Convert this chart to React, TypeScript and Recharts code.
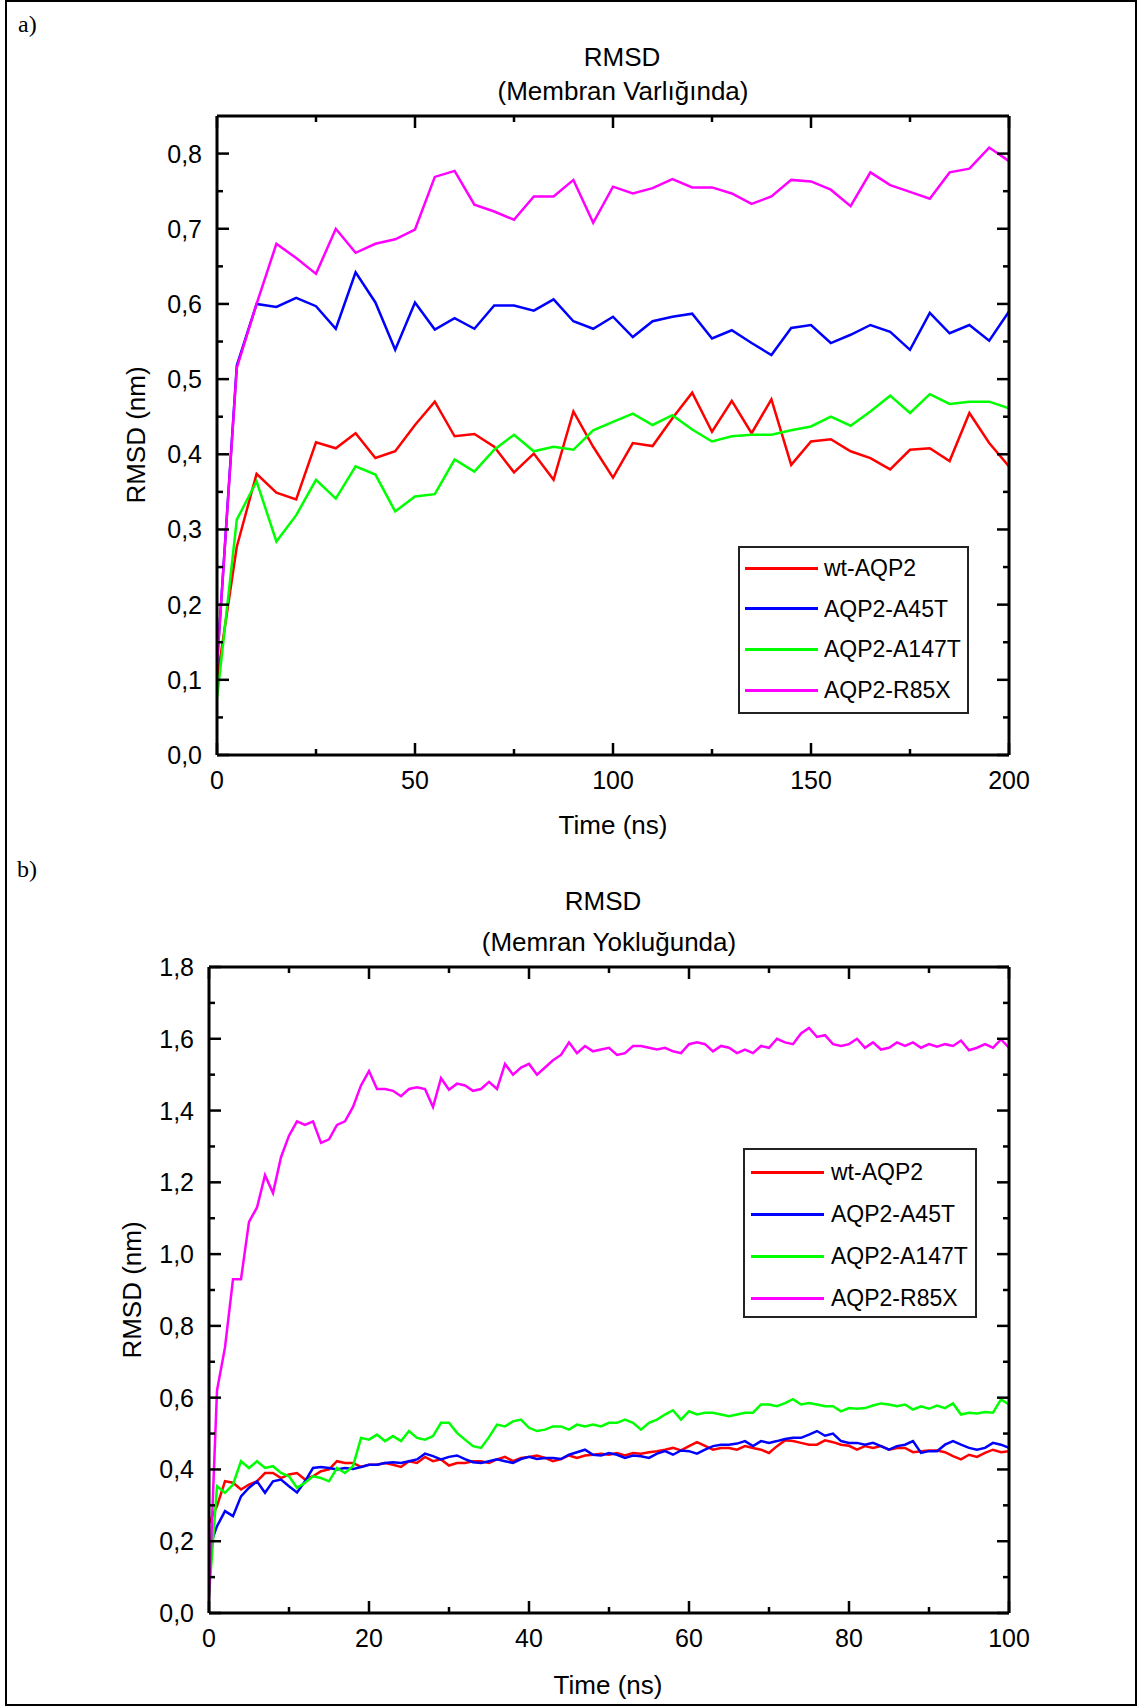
import { LineChart, Line, XAxis, YAxis, Legend } from 'recharts'

const FONT = '"Liberation Sans", Arial, sans-serif'
const SERIF = '"Liberation Serif", "Times New Roman", serif'

const NAMES = ['wt-AQP2', 'AQP2-A45T', 'AQP2-A147T', 'AQP2-R85X']
const KEYS = ['wt', 'a45t', 'a147t', 'r85x']
const COLORS = ['#FF0000', '#0000FF', '#00FF00', '#FF00FF']

// a) Membran Varlığında, every 5 ns
const TIME_A = [0, 5, 10, 15, 20, 25, 30, 35, 40, 45, 50, 55, 60, 65, 70, 75, 80, 85, 90, 95, 100,
  105, 110, 115, 120, 125, 130, 135, 140, 145, 150, 155, 160, 165, 170, 175, 180, 185, 190, 195, 200]
const WT_A = [0.10, 0.277, 0.374, 0.349, 0.340, 0.416, 0.408, 0.428, 0.395, 0.404, 0.439, 0.470, 0.424, 0.427,
  0.410, 0.376, 0.401, 0.366, 0.457, 0.410, 0.369, 0.415, 0.411, 0.448, 0.482, 0.430, 0.471, 0.428, 0.473,
  0.386, 0.417, 0.420, 0.404, 0.395, 0.380, 0.406, 0.408, 0.391, 0.455, 0.415, 0.384]
const A45T_A = [0.12, 0.518, 0.600, 0.596, 0.608, 0.597, 0.567, 0.642, 0.602, 0.539, 0.602, 0.566, 0.581, 0.567,
  0.598, 0.598, 0.591, 0.606, 0.577, 0.567, 0.583, 0.556, 0.577, 0.583, 0.587, 0.554, 0.565, 0.548, 0.532,
  0.568, 0.572, 0.548, 0.559, 0.572, 0.563, 0.539, 0.588, 0.561, 0.572, 0.551, 0.590]
const A147T_A = [0.075, 0.313, 0.364, 0.284, 0.319, 0.366, 0.341, 0.384, 0.373, 0.324, 0.344, 0.347, 0.393, 0.377,
  0.406, 0.426, 0.404, 0.410, 0.406, 0.432, 0.443, 0.454, 0.439, 0.452, 0.433, 0.417, 0.424, 0.426, 0.426,
  0.432, 0.437, 0.450, 0.438, 0.457, 0.478, 0.455, 0.480, 0.467, 0.470, 0.470, 0.461]
const R85X_A = [0.12, 0.515, 0.600, 0.680, 0.661, 0.640, 0.700, 0.668, 0.680, 0.686, 0.699, 0.769, 0.777, 0.732,
  0.723, 0.712, 0.743, 0.743, 0.765, 0.708, 0.756, 0.747, 0.754, 0.766, 0.755, 0.755, 0.747, 0.733, 0.743,
  0.765, 0.763, 0.752, 0.730, 0.775, 0.758, 0.749, 0.740, 0.775, 0.780, 0.808, 0.790]

// b) Memran Yokluğunda, every 1 ns
const TIME_B = [0, 1, 2, 3, 4, 5, 6, 7, 8, 9, 10, 11, 12, 13, 14, 15, 16, 17, 18, 19, 20, 21, 22, 23, 24, 25,
  26, 27, 28, 29, 30, 31, 32, 33, 34, 35, 36, 37, 38, 39, 40, 41, 42, 43, 44, 45, 46, 47, 48, 49, 50, 51, 52,
  53, 54, 55, 56, 57, 58, 59, 60, 61, 62, 63, 64, 65, 66, 67, 68, 69, 70, 71, 72, 73, 74, 75, 76, 77, 78, 79,
  80, 81, 82, 83, 84, 85, 86, 87, 88, 89, 90, 91, 92, 93, 94, 95, 96, 97, 98, 99, 100]
const WT_B = [
  0.25, 0.298, 0.367, 0.363, 0.344, 0.358, 0.367, 0.390, 0.390, 0.376,
  0.386, 0.390, 0.372, 0.381, 0.395, 0.400, 0.423, 0.418, 0.418, 0.407,
  0.413, 0.413, 0.418, 0.413, 0.407, 0.423, 0.418, 0.435, 0.423, 0.428,
  0.411, 0.418, 0.418, 0.423, 0.423, 0.418, 0.428, 0.435, 0.423, 0.432,
  0.435, 0.439, 0.432, 0.423, 0.429, 0.439, 0.432, 0.439, 0.441, 0.444,
  0.441, 0.446, 0.439, 0.446, 0.444, 0.448, 0.451, 0.455, 0.460, 0.453,
  0.465, 0.476, 0.466, 0.455, 0.460, 0.460, 0.455, 0.465, 0.460, 0.455,
  0.446, 0.465, 0.481, 0.479, 0.474, 0.469, 0.469, 0.481, 0.476, 0.469,
  0.466, 0.455, 0.465, 0.460, 0.465, 0.455, 0.460, 0.460, 0.448, 0.451,
  0.453, 0.453, 0.448, 0.437, 0.428, 0.441, 0.435, 0.446, 0.455, 0.448,
  0.451]
const A45T_B = [
  0.18, 0.242, 0.284, 0.270, 0.325, 0.349, 0.367, 0.335, 0.367, 0.372,
  0.353, 0.336, 0.367, 0.404, 0.407, 0.404, 0.400, 0.404, 0.401, 0.407,
  0.413, 0.413, 0.418, 0.420, 0.418, 0.423, 0.428, 0.444, 0.437, 0.428,
  0.435, 0.439, 0.429, 0.420, 0.418, 0.423, 0.428, 0.423, 0.418, 0.429,
  0.435, 0.429, 0.432, 0.432, 0.429, 0.441, 0.448, 0.455, 0.441, 0.439,
  0.446, 0.441, 0.432, 0.439, 0.437, 0.432, 0.444, 0.451, 0.441, 0.453,
  0.451, 0.444, 0.455, 0.465, 0.469, 0.469, 0.472, 0.479, 0.465, 0.479,
  0.474, 0.479, 0.485, 0.488, 0.488, 0.497, 0.507, 0.494, 0.500, 0.479,
  0.474, 0.474, 0.469, 0.474, 0.465, 0.455, 0.465, 0.469, 0.479, 0.446,
  0.451, 0.451, 0.469, 0.479, 0.469, 0.460, 0.455, 0.460, 0.474, 0.469,
  0.460]
const A147T_B = [
  0.05, 0.353, 0.335, 0.358, 0.423, 0.404, 0.423, 0.404, 0.409, 0.390,
  0.381, 0.349, 0.363, 0.381, 0.376, 0.367, 0.404, 0.390, 0.409, 0.488,
  0.483, 0.497, 0.479, 0.493, 0.479, 0.507, 0.488, 0.483, 0.493, 0.530,
  0.530, 0.502, 0.483, 0.465, 0.460, 0.490, 0.525, 0.520, 0.534, 0.539,
  0.516, 0.507, 0.511, 0.520, 0.520, 0.511, 0.525, 0.520, 0.525, 0.520,
  0.530, 0.530, 0.539, 0.530, 0.511, 0.530, 0.539, 0.553, 0.565, 0.539,
  0.562, 0.553, 0.558, 0.558, 0.553, 0.548, 0.553, 0.558, 0.558, 0.581,
  0.581, 0.576, 0.585, 0.596, 0.581, 0.585, 0.581, 0.576, 0.576, 0.562,
  0.571, 0.569, 0.571, 0.578, 0.584, 0.581, 0.576, 0.581, 0.567, 0.576,
  0.569, 0.578, 0.571, 0.584, 0.553, 0.558, 0.556, 0.560, 0.558, 0.595,
  0.581]
const R85X_B = [
  0.04, 0.62, 0.74, 0.93, 0.93, 1.09, 1.13, 1.22, 1.17, 1.27,
  1.33, 1.37, 1.36, 1.37, 1.31, 1.32, 1.36, 1.37, 1.41, 1.47,
  1.51, 1.46, 1.46, 1.455, 1.44, 1.46, 1.465, 1.46, 1.41, 1.49,
  1.458, 1.475, 1.47, 1.455, 1.46, 1.48, 1.46, 1.53, 1.50, 1.52,
  1.53, 1.50, 1.52, 1.54, 1.555, 1.59, 1.56, 1.58, 1.565, 1.57,
  1.575, 1.555, 1.56, 1.58, 1.58, 1.575, 1.57, 1.575, 1.565, 1.56,
  1.585, 1.59, 1.585, 1.565, 1.58, 1.575, 1.56, 1.57, 1.56, 1.58,
  1.575, 1.60, 1.59, 1.585, 1.615, 1.63, 1.605, 1.61, 1.585, 1.58,
  1.585, 1.60, 1.575, 1.59, 1.57, 1.575, 1.59, 1.58, 1.59, 1.575,
  1.585, 1.578, 1.585, 1.58, 1.595, 1.568, 1.575, 1.585, 1.575, 1.598,
  1.575]

const X_TICKS_A = [0, 25, 50, 75, 100, 125, 150, 175, 200]
const X_LABELS_A = [0, 50, 100, 150, 200]
const Y_TICKS_A = [0, 0.05, 0.1, 0.15, 0.2, 0.25, 0.3, 0.35, 0.4, 0.45, 0.5, 0.55, 0.6, 0.65, 0.7, 0.75, 0.8]
const Y_LABELS_A = [0, 0.1, 0.2, 0.3, 0.4, 0.5, 0.6, 0.7, 0.8]

const X_TICKS_B = [0, 10, 20, 30, 40, 50, 60, 70, 80, 90, 100]
const X_LABELS_B = [0, 20, 40, 60, 80, 100]
const Y_TICKS_B = [0, 0.1, 0.2, 0.3, 0.4, 0.5, 0.6, 0.7, 0.8, 0.9, 1.0, 1.1, 1.2, 1.3, 1.4, 1.5, 1.6, 1.7, 1.8]
const Y_LABELS_B = [0, 0.2, 0.4, 0.6, 0.8, 1.0, 1.2, 1.4, 1.6, 1.8]

const dataA = TIME_A.map((t, i) => ({ t, wt: WT_A[i], a45t: A45T_A[i], a147t: A147T_A[i], r85x: R85X_A[i] }))
const dataB = TIME_B.map((t, i) => ({ t, wt: WT_B[i], a45t: A45T_B[i], a147t: A147T_B[i], r85x: R85X_B[i] }))

const fmtX = (v: number) => String(v)
const fmtY = (v: number) => v.toFixed(1).replace('.', ',')

const AXIS = { stroke: '#000', strokeWidth: 3 }

// ticks point into the plot (Origin style), labels only on bottom/left
function axisTick(side: 'left' | 'right' | 'top' | 'bottom', majors: number[], labelled: boolean, fmt: (v: number) => string) {
  return (props: any) => {
    const { x, y, payload } = props
    const v = payload.value
    const major = majors.includes(v)
    const len = major ? 12 : 6
    let x2 = x
    let y2 = y
    if (side === 'left') x2 = x + len
    if (side === 'right') x2 = x - len
    if (side === 'top') y2 = y + len
    if (side === 'bottom') y2 = y - len
    return (
      <g>
        <line x1={x} y1={y} x2={x2} y2={y2} stroke="#000" strokeWidth={2.5} />
        {labelled && major && side === 'left' && (
          <text x={x - 15} y={y + 9} textAnchor="end" fontSize={25} fontFamily={FONT} fill="#000">{fmt(v)}</text>
        )}
        {labelled && major && side === 'bottom' && (
          <text x={x} y={y + 34} textAnchor="middle" fontSize={25} fontFamily={FONT} fill="#000">{fmt(v)}</text>
        )}
      </g>
    )
  }
}

type LegendPos = { left: number; top: number; width: number; height: number; first: number; step: number; sampleLeft: number; textLeft: number }

function LegendBox({ payload, pos }: { payload: any[]; pos: LegendPos }) {
  const items = [...(payload || [])].sort((a, b) => NAMES.indexOf(a.value) - NAMES.indexOf(b.value))
  return (
    <div style={{ position: 'relative', width: pos.width, height: pos.height, border: '2px solid #222', boxSizing: 'border-box', background: '#fff', fontFamily: FONT }}>
      {items.map((it, i) => {
        const c = pos.first + i * pos.step - 2
        return (
          <div key={it.value}>
            <div style={{ position: 'absolute', left: pos.sampleLeft, top: c - 1.5, width: 73, height: 3, background: it.color }} />
            <div style={{ position: 'absolute', left: pos.textLeft, top: c - 14, lineHeight: '28px', fontSize: 23, color: '#000', whiteSpace: 'nowrap' }}>{it.value}</div>
          </div>
        )
      })}
    </div>
  )
}

function Panel(p: {
  data: any[]; height: number; margin: { top: number; right: number; bottom: number; left: number }
  xDomain: [number, number]; xTicks: number[]; xLabels: number[]
  yDomain: [number, number]; yTicks: number[]; yLabels: number[]
  legend: LegendPos
}) {
  return (
    <LineChart width={1140} height={p.height} data={p.data} margin={p.margin}>
      <XAxis xAxisId="b" dataKey="t" type="number" domain={p.xDomain} ticks={p.xTicks} interval={0} height={60}
        tickSize={0} tickMargin={0} tickLine={false} axisLine={AXIS} tick={axisTick('bottom', p.xLabels, true, fmtX)} allowDataOverflow />
      <XAxis xAxisId="top" orientation="top" dataKey="t" type="number" domain={p.xDomain} ticks={p.xTicks} interval={0} height={1}
        tickSize={0} tickMargin={0} tickLine={false} axisLine={AXIS} tick={axisTick('top', p.xLabels, false, fmtX)} allowDataOverflow />
      <YAxis yAxisId="l" type="number" domain={p.yDomain} ticks={p.yTicks} interval={0} width={80}
        tickSize={0} tickMargin={0} tickLine={false} axisLine={AXIS} tick={axisTick('left', p.yLabels, true, fmtY)} allowDataOverflow />
      <YAxis yAxisId="r" orientation="right" type="number" domain={p.yDomain} ticks={p.yTicks} interval={0} width={1}
        tickSize={0} tickMargin={0} tickLine={false} axisLine={AXIS} tick={axisTick('right', p.yLabels, false, fmtY)} allowDataOverflow />
      {KEYS.map((k, i) => (
        <Line key={k} xAxisId="b" yAxisId="l" type="linear" dataKey={k} name={NAMES[i]} stroke={COLORS[i]}
          strokeWidth={2.5} dot={false} activeDot={false} isAnimationActive={false} />
      ))}
      <Legend layout="vertical" align="center" verticalAlign="middle"
        wrapperStyle={{ left: p.legend.left, top: p.legend.top, width: p.legend.width, height: p.legend.height }}
        content={(lp: any) => <LegendBox payload={lp.payload} pos={p.legend} />} />
    </LineChart>
  )
}

const txt = { fontFamily: FONT, fill: '#000', textAnchor: 'middle' as const }

export default function App() {
  return (
    <div style={{ position: 'absolute', left: 0, top: 0, width: 1140, height: 1706, background: '#fff', overflow: 'hidden' }}>
      <div style={{ position: 'absolute', left: 5, top: 0, width: 1132, height: 1706, border: '2px solid #000', boxSizing: 'border-box' }} />
      <div style={{ position: 'absolute', left: 0, top: 0 }}>
        <Panel data={dataA} height={860} margin={{ top: 115, right: 130, bottom: 45, left: 137 }}
          xDomain={[0, 200]} xTicks={X_TICKS_A} xLabels={X_LABELS_A}
          yDomain={[0, 0.85]} yTicks={Y_TICKS_A} yLabels={Y_LABELS_A}
          legend={{ left: 738, top: 546, width: 231, height: 168, first: 22, step: 40.7, sampleLeft: 5, textLeft: 84 }} />
      </div>
      <div style={{ position: 'absolute', left: 0, top: 860 }}>
        <Panel data={dataB} height={846} margin={{ top: 106, right: 130, bottom: 33, left: 129 }}
          xDomain={[0, 100]} xTicks={X_TICKS_B} xLabels={X_LABELS_B}
          yDomain={[0, 1.8]} yTicks={Y_TICKS_B} yLabels={Y_LABELS_B}
          legend={{ left: 743, top: 288, width: 234, height: 170, first: 24, step: 42, sampleLeft: 6, textLeft: 86 }} />
      </div>
      <svg width={1140} height={1706} style={{ position: 'absolute', left: 0, top: 0, pointerEvents: 'none' }}>
        <text x={18} y={32} fontSize={24} fontFamily={SERIF} fill="#000">a)</text>
        <text x={17} y={877} fontSize={24} fontFamily={SERIF} fill="#000">b)</text>

        <text x={622} y={66} fontSize={26} {...txt}>RMSD</text>
        <text x={623} y={100} fontSize={26} {...txt}>(Membran Varlığında)</text>
        <text x={613} y={834} fontSize={26} {...txt}>Time (ns)</text>
        <text x={145} y={435} fontSize={26} {...txt} transform="rotate(-90 145 435)">RMSD (nm)</text>

        <text x={603} y={910} fontSize={26} {...txt}>RMSD</text>
        <text x={609} y={951} fontSize={26} {...txt}>(Memran Yokluğunda)</text>
        <text x={608} y={1694} fontSize={26} {...txt}>Time (ns)</text>
        <text x={141} y={1290} fontSize={26} {...txt} transform="rotate(-90 141 1290)">RMSD (nm)</text>
      </svg>
    </div>
  )
}
